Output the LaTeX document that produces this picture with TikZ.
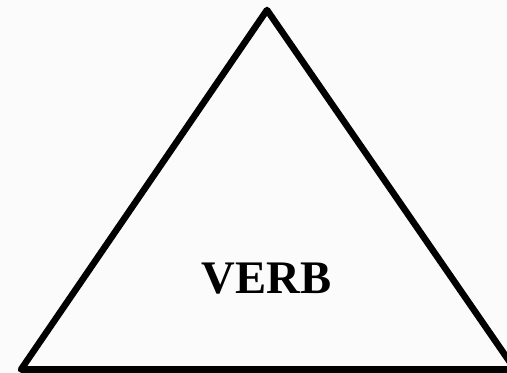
\documentclass[tikz,border=0pt]{standalone}
\usepackage{fontspec}
\setmainfont{Liberation Serif}
\usetikzlibrary{positioning}
\definecolor{PaperBg}{HTML}{FBFBFB}

\begin{document}
\begin{tikzpicture}[
  x=0.75pt, y=-0.75pt,
  edge/.style={
    draw=black,
    line width=4.9pt,
    line join=round
  },
  word/.style={
    font=\fontsize{35}{40}\selectfont\bfseries,
    inner sep=0pt
  }
]

% background and frame
\fill[PaperBg] (0,0) rectangle (507,373);
\useasboundingbox (0,0) rectangle (507,373);
\clip (0,0) rectangle (507,373);

% corners of the triangle
\coordinate (apex) at (267,10);
\coordinate (left) at (21,369.5);
\coordinate (right) at (515,369.5);

\draw[edge] (apex) -- (right) -- (left) -- cycle;

% label
\node[word] (verb) at (266.5,278.5) {VERB};

\end{tikzpicture}
\end{document}
